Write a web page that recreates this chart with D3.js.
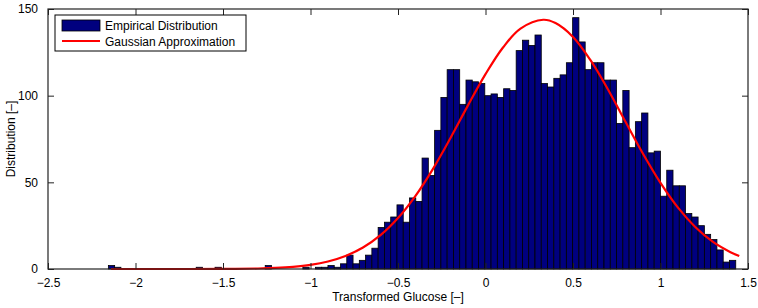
<!DOCTYPE html>
<html>
<head>
<meta charset="utf-8">
<script src="https://cdnjs.cloudflare.com/ajax/libs/d3/7.8.5/d3.min.js"></script>
<style>
body { margin: 0; background: #fff; }
svg text { font-family: "Liberation Sans", Arial, Helvetica, sans-serif; }
</style>
</head>
<body>
<script>

// histogram counts, 100 bins
var binStart = -2.155;
var binWidth = 0.03585;
var counts = [
	2, 1, 0, 0, 0, 0, 0, 0, 0, 0,
	0, 0, 0, 0, 1, 0, 0, 1, 0, 0,
	0, 0, 0, 0, 0, 2, 0, 0, 0, 0,
	0, 1, 0, 1, 1, 2, 1, 3, 8, 3,
	5, 8, 12, 24, 27, 30, 37, 27, 41, 39,
	64, 54, 80, 99, 115, 115, 95, 109, 108, 107,
	100, 101, 99, 104, 103, 126, 132, 129, 135, 107,
	105, 110, 112, 119, 145, 131, 115, 119, 119, 109,
	109, 84, 103, 70, 85, 90, 67, 68, 42, 57,
	48, 48, 32, 30, 25, 20, 17, 11, 4, 5
];

// red gaussian line
var curveX = [-2.14, -1.9, -1.7, -1.5, -1.3, -1.2, -1.1, -1.0, -0.9, -0.8, -0.7, -0.6, -0.5, -0.4, -0.3, -0.2, -0.1,
	0.0, 0.1, 0.2, 0.33, 0.4, 0.5, 0.6, 0.7, 0.8, 0.9, 1.0, 1.1, 1.2, 1.3, 1.4, 1.45];
var curveY = [0, 0, 0.01, 0.06, 0.3, 0.63, 1.26, 2.39, 4.34, 7.51, 12.4, 19.5, 29.4, 42.2, 57.8, 75.6, 94.4,
	112.4, 127.8, 138.7, 143.8, 141.9, 133.9, 120.5, 103.6, 84.9, 66.5, 49.7, 35.4, 24.1, 15.6, 9.7, 7.5];

var xTicks = [-2.5, -2, -1.5, -1, -0.5, 0, 0.5, 1, 1.5];
var yTicks = [0, 50, 100, 150];
var legendLabels = ["Empirical Distribution", "Gaussian Approximation"];

var W = 758, H = 308;
var m = {left: 48, top: 9, right: 10, bottom: 39};
var pw = W - m.left - m.right;
var ph = H - m.top - m.bottom;

var svg = d3.select("body").append("svg")
	.attr("width", W)
	.attr("height", H);

var g = svg.append("g").attr("transform", "translate(" + m.left + "," + m.top + ")");

var x = d3.scaleLinear().domain([-2.5, 1.5]).range([0, pw]);
var y = d3.scaleLinear().domain([0, 150]).range([ph, 0]);

function fmt(d){ // matlab style minus
	return String(d).replace("-", "\u2212");
}

// turn counts into bins so the empty ones can be dropped without losing the index
var bins = counts.map(function(n, i){
	return {x0: binStart + i*binWidth, x1: binStart + (i+1)*binWidth, n: n};
}).filter(function(b){ return b.n > 0; });

g.selectAll("rect.bar")
	.data(bins)
	.enter()
	.append("rect")
	.attr("class", "bar")
	.attr("x", function(d){ return x(d.x0); })
	.attr("width", function(d){ return x(d.x1) - x(d.x0); })
	.attr("y", function(d){ return y(d.n); })
	.attr("height", function(d){ return y(0) - y(d.n); })
	.style("fill", "#00007f")
	.style("stroke", "#000")
	.style("stroke-width", 0.8);

// gaussian
var line = d3.line()
	.x(function(d, i){ return x(curveX[i]); })
	.y(function(d){ return y(Math.max(0, d)); })
	.curve(d3.curveCatmullRom.alpha(0.5));

g.append("path")
	.attr("d", line(curveY))
	.style("fill", "none")
	.style("stroke", "#ff0000")
	.style("stroke-width", 2.2);

// box + inward ticks (top/right mirror the bottom/left)
var tickCol = "#222";
var tl = 6;

g.append("rect")
	.attr("x", 0).attr("y", 0)
	.attr("width", pw).attr("height", ph)
	.style("fill", "none")
	.style("stroke", tickCol)
	.style("stroke-width", 1.2);

var xAxis = d3.axisBottom(x).tickValues(xTicks).tickSize(-tl).tickPadding(tl + 3).tickFormat(fmt);
var xTop = d3.axisTop(x).tickValues(xTicks).tickSize(-tl).tickFormat("");
var yAxis = d3.axisLeft(y).tickValues(yTicks).tickSize(-tl).tickPadding(tl + 4).tickFormat(fmt);
var yRight = d3.axisRight(y).tickValues(yTicks).tickSize(-tl).tickFormat("");

function styleAxis(sel){
	sel.select(".domain").remove();
	sel.selectAll(".tick line").style("stroke", tickCol);
	sel.selectAll(".tick text").style("fill", "#000").style("font-size", "12px");
}

g.append("g").attr("transform", "translate(0," + ph + ")").call(xAxis).call(styleAxis);
g.append("g").call(xTop).call(styleAxis);
g.append("g").call(yAxis).call(styleAxis);
g.append("g").attr("transform", "translate(" + pw + ",0)").call(yRight).call(styleAxis);

// axis labels
svg.append("text")
	.attr("x", m.left + pw/2)
	.attr("y", 301)
	.attr("text-anchor", "middle")
	.style("font-size", "12px")
	.text("Transformed Glucose [\u2013]");

svg.append("text")
	.attr("transform", "translate(15," + (m.top + ph/2) + ") rotate(-90)")
	.attr("text-anchor", "middle")
	.style("font-size", "12px")
	.text("Distribution [\u2013]");

// legend
var lg = svg.append("g").attr("transform", "translate(55,15)");
lg.append("rect")
	.attr("width", 191).attr("height", 36)
	.style("fill", "#fff")
	.style("stroke", "#000")
	.style("stroke-width", 1);

lg.append("rect")
	.attr("x", 7).attr("y", 5)
	.attr("width", 38).attr("height", 11)
	.style("fill", "#00007f")
	.style("stroke", "#000")
	.style("stroke-width", 0.8);

lg.append("line")
	.attr("x1", 7).attr("x2", 45)
	.attr("y1", 26).attr("y2", 26)
	.style("stroke", "#ff0000")
	.style("stroke-width", 2.2);

lg.selectAll("text.lab")
	.data(legendLabels)
	.enter()
	.append("text")
	.attr("class", "lab")
	.attr("x", 50)
	.attr("y", function(d, i){ return 14.5 + i*16; })
	.style("font-size", "12px")
	.text(function(d){ return d; });

</script>
</body>
</html>
